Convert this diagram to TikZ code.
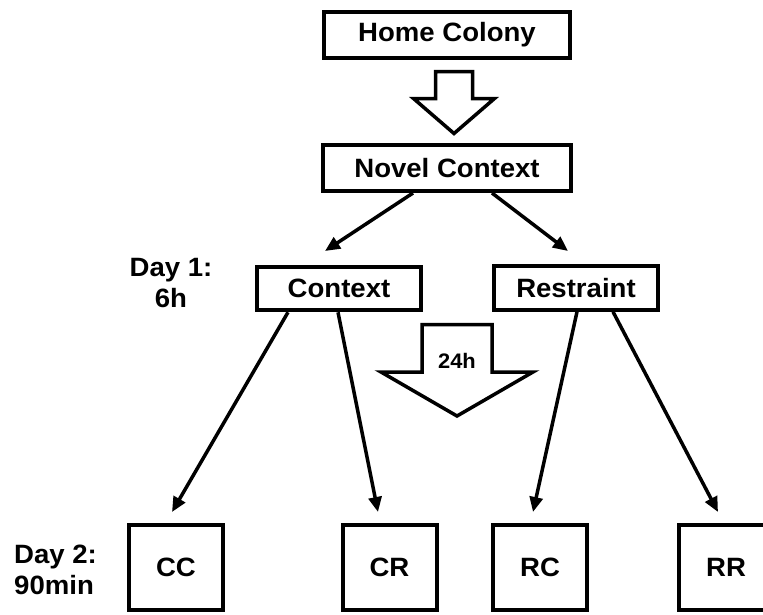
\documentclass[tikz,border=0pt]{standalone}
\usepackage{fontspec}
\setmainfont{Liberation Sans}[FakeStretch=1.04]
\usepackage{tikz}
\usetikzlibrary{arrows.meta}
\usetikzlibrary{positioning}

\tikzset{
  wide/.style={draw, line width=4pt, inner sep=0pt, minimum width=246pt, minimum height=46pt,
    font=\bfseries\fontsize{26.5}{30}\selectfont},
  mid/.style={wide, minimum width=164pt, minimum height=43.5pt},
  cage/.style={wide, minimum width=94pt, minimum height=85pt},
  daylabel/.style={inner sep=0pt, font=\bfseries\fontsize{26.5}{31}\selectfont},
  conn/.style={line width=3.5pt, -{Triangle[length=15pt,width=13pt]}},
  bigarrow/.style={line width=3.5pt, line join=miter}
}

\begin{document}
\begin{tikzpicture}[x=1pt, y=-1pt]
	\useasboundingbox (0,0) rectangle (763,614);

	% stages
	\node[wide] (home) at (447,35) {Home Colony};
	\node[wide, minimum width=248pt] (novel) at (447,168) {Novel Context};
	\node[mid] (ctx) at (339,288.5) {Context};
	\node[mid] (rst) at (576,288) {Restraint};

	% groups on day 2
	\node[cage] (cc) at (176,567.5) {CC};
	\node[cage] (cr) at (389.5,567.5) {CR};
	\node[cage] (rc) at (540,567.5) {RC};
	\node[cage] (rr) at (726,567.5) {RR};

	\node[daylabel, align=center] (day1) at (171,283.5) {Day 1:\\6h};
	\node[daylabel, align=left, anchor=west] (day2) at (14,570) {Day 2:\\90min};

	% block arrows
	\coordinate (homearrow) at (454,71.5);
	\draw[bigarrow] (homearrow) ++(-18.5,0) -- ++(37,0) -- ++(0,27) -- ++(22,0)
		-- ++(-40.5,35) -- ++(-40.5,-35) -- ++(22,0) -- cycle;
	\coordinate (dayarrow) at (457,324.5);
	\draw[bigarrow] (dayarrow) ++(-35,0) -- ++(70,0) -- ++(0,47.5) -- ++(41,0)
		-- ++(-76,44) -- ++(-76,-44) -- ++(41,0) -- cycle;
	\node[inner sep=0pt, font=\bfseries\fontsize{21}{24}\selectfont] (wait) at (457,361) {24h};

	% connectors
	\coordinate (ctxtip) at (325,251);
	\coordinate (rsttip) at (568,251);
	\coordinate (cctip) at (172,512);
	\coordinate (crtip) at (378,512);
	\coordinate (rctip) at (533,512);
	\coordinate (rrtip) at (718,512);
	\draw[conn] ([xshift=-34pt]novel.south) -- (ctxtip);
	\draw[conn] ([xshift=45pt]novel.south) -- (rsttip);
	\draw[conn] ([xshift=-51pt]ctx.south) -- (cctip);
	\draw[conn] ([xshift=-1pt]ctx.south) -- (crtip);
	\draw[conn] ([xshift=1pt]rst.south) -- (rctip);
	\draw[conn] ([xshift=37pt]rst.south) -- (rrtip);
\end{tikzpicture}
\end{document}
